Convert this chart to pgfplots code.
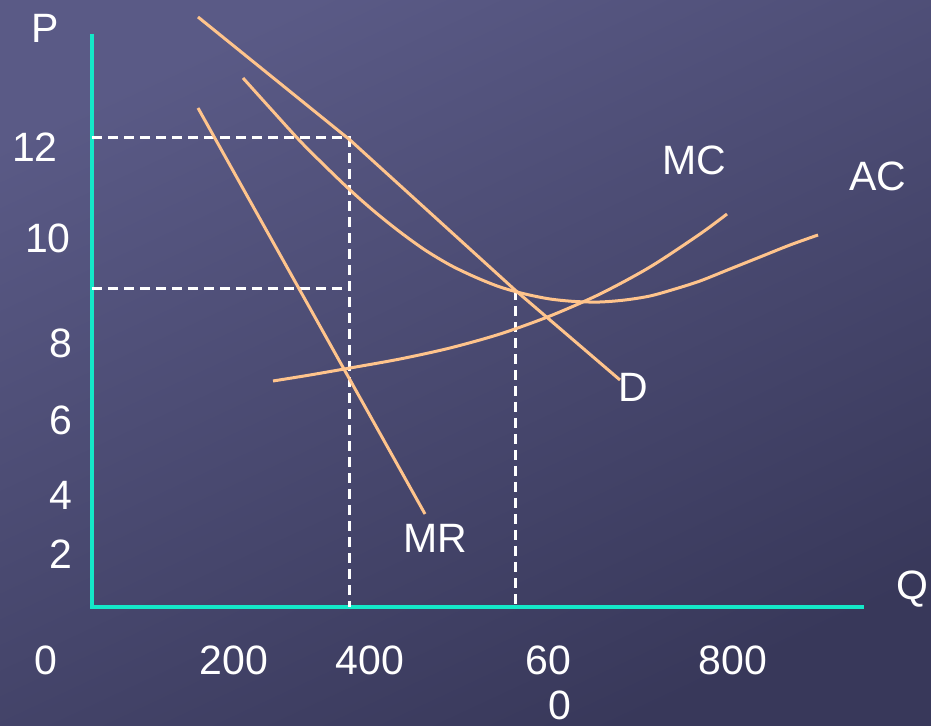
\documentclass[border=0pt]{standalone}
\usepackage{pgfplots}
\pgfplotsset{compat=1.18}
\usepackage{fontspec}
\setmainfont{Liberation Sans}
\definecolor{bgtop}{RGB}{90,90,134}
\definecolor{bgbot}{RGB}{56,56,90}
\definecolor{curve}{RGB}{255,196,140}
\definecolor{axcyan}{RGB}{20,232,200}
\begin{document}
\begin{tikzpicture}[x=0.5pt,y=0.5pt,
  lab/.style={font=\fontsize{20.5}{24}\selectfont,text=white,inner sep=0pt},
  crv/.style={curve,line width=1.5pt},
  dsh/.style={white,line width=1.5pt,dash pattern=on 5pt off 3pt}]
\fill[top color=bgtop,bottom color=bgbot,shading angle=25] (0,0) rectangle (931,726);
\begin{axis}[at={(0,0)},anchor=south west,scale only axis,
  width=465.5pt,height=363pt,xmin=0,xmax=931,ymin=0,ymax=726,
  y dir=reverse,axis lines=none,xtick=\empty,ytick=\empty,clip=false]
% axes
\addplot[axcyan,line width=2pt] coordinates {(92,34) (92,607) (864,607)};
% dashed guides
\addplot[dsh] coordinates {(92,138) (349,138) (349,607)};
\addplot[dsh] coordinates {(92,289) (349,289)};
\addplot[dsh] coordinates {(515,290) (515,607)};
% D
\addplot[crv] coordinates {(198,17) (350,140) (515,290) (620,380)};
% AC
\addplot[crv,smooth] coordinates {(243,78) (270,108) (300,141) (325,166) (350,190) (375,212) (400,232) (425,250) (450,265) (475,277) (500,287) (525,294) (550,299) (575,301.5) (600,302) (625,300) (650,296) (675,289) (700,281) (730,269) (760,257) (790,245) (818,235)};
% MC
\addplot[crv,smooth] coordinates {(273,381) (310,375) (350,368) (400,359) (450,348) (500,334) (550,316) (600,294) (650,267) (700,234) (727,214)};
% MR
\addplot[crv] coordinates {(198,108) (425,514)};
% labels
\node[lab] at (axis cs:45,28) {P};
\node[lab] at (axis cs:35,147) {12};
\node[lab] at (axis cs:48,238) {10};
\node[lab] at (axis cs:61,343) {8};
\node[lab] at (axis cs:61,420) {6};
\node[lab] at (axis cs:61,495) {4};
\node[lab] at (axis cs:61,554) {2};
\node[lab] at (axis cs:46,660) {0};
\node[lab] at (axis cs:234,660) {200};
\node[lab] at (axis cs:370,660) {400};
\node[lab] at (axis cs:548,660) {60};
\node[lab] at (axis cs:560,705) {0};
\node[lab] at (axis cs:733,660) {800};
\node[lab,anchor=east] at (axis cs:929,589) {Q};
\node[lab] at (axis cs:694,160) {MC};
\node[lab] at (axis cs:878,176) {AC};
\node[lab] at (axis cs:633,387) {D};
\node[lab] at (axis cs:435,538) {MR};
\end{axis}
\pgfresetboundingbox
\path[use as bounding box] (0,0) rectangle (931,726);
\end{tikzpicture}
\end{document}
